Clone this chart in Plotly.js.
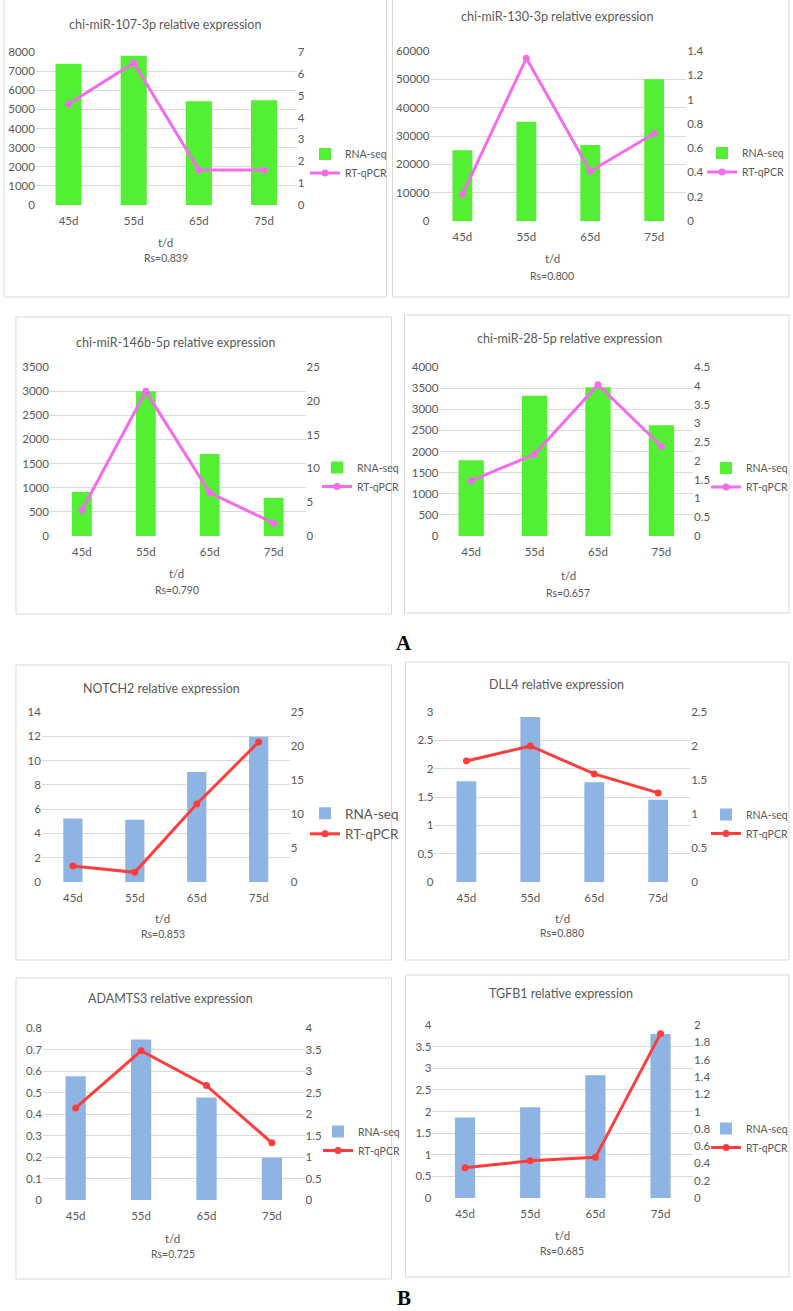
<!DOCTYPE html>
<html><head><meta charset="utf-8">
<script src="https://cdn.plot.ly/plotly-3.0.1.min.js"></script>
<style>html,body{margin:0;padding:0;background:#fff;} #chart{width:793px;height:1311px;}</style>
</head><body><div id="chart"></div>
<script>
// ---------- DATA ----------
const categories = ['45d', '55d', '65d', '75d'];
const seriesNames = ['RNA-seq', 'RT-qPCR'];
const titles = [
  'chi-miR-107-3p relative expression',
  'chi-miR-130-3p relative expression',
  'chi-miR-146b-5p relative expression',
  'chi-miR-28-5p relative expression',
  'NOTCH2 relative expression',
  'DLL4 relative expression',
  'ADAMTS3 relative expression',
  'TGFB1 relative expression'
];
const xTitle = 't/d';
const rsLabels = ['Rs=0.839', 'Rs=0.800', 'Rs=0.790', 'Rs=0.657', 'Rs=0.853', 'Rs=0.880', 'Rs=0.725', 'Rs=0.685'];

const rnaSeq107 = [7380, 7800, 5420, 5480];
const qpcr107 = [4.62, 6.50, 1.60, 1.60];
const rnaSeq130 = [25000, 35000, 26800, 50000];
const qpcr130 = [0.22, 1.34, 0.41, 0.72];
const rnaSeq146b = [910, 3000, 1700, 790];
const qpcr146b = [3.8, 21.4, 6.4, 1.9];
const rnaSeq28 = [1790, 3320, 3520, 2620];
const qpcr28 = [1.47, 2.18, 4.03, 2.39];
const rnaSeqNOTCH2 = [5.22, 5.13, 9.06, 11.97];
const qpcrNOTCH2 = [2.35, 1.42, 11.47, 20.6];
const rnaSeqDLL4 = [1.78, 2.91, 1.76, 1.45];
const qpcrDLL4 = [1.78, 2.0, 1.59, 1.31];
const rnaSeqADAMTS3 = [0.576, 0.746, 0.477, 0.197];
const qpcrADAMTS3 = [2.14, 3.47, 2.66, 1.33];
const rnaSeqTGFB1 = [1.86, 2.10, 2.84, 3.79];
const qpcrTGFB1 = [0.35, 0.43, 0.47, 1.90];

// axis scales (max, step) left / right
const leftMax = [8000, 60000, 3500, 4000, 14, 3, 0.8, 4];
const leftStep = [1000, 10000, 500, 500, 2, 0.5, 0.1, 0.5];
const rightMax = [7, 1.4, 25, 4.5, 25, 2.5, 4, 2];
const rightStep = [1, 0.2, 5, 0.5, 5, 0.5, 0.5, 0.2];
const panelLetters = ['A', 'B'];

const rnaSeqAll = [rnaSeq107, rnaSeq130, rnaSeq146b, rnaSeq28, rnaSeqNOTCH2, rnaSeqDLL4, rnaSeqADAMTS3, rnaSeqTGFB1];
const qpcrAll = [qpcr107, qpcr130, qpcr146b, qpcr28, qpcrNOTCH2, qpcrDLL4, qpcrADAMTS3, qpcrTGFB1];

// ---------- LAYOUT (pixels) ----------
const W = 793, H = 1311;
const panels = [
  {plot:[36,297,52,205], box:[4,387,-2,297], title:[165,24], td:[166,243], rs:[166,258], leg:[305,163.5], lf:10.5, bw:0.4, a:'g'},
  {plot:[431,687,51,221], box:[393,790,-2,297], title:[558,17], td:[553,258], rs:[553,276], leg:[702,162.5], lf:10.5, bw:0.31, a:'g'},
  {plot:[50,306,367,536], box:[16,392,317,614], title:[176,343], td:[177,574], rs:[177,590], leg:[317,477], lf:10.5, bw:0.31, a:'g'},
  {plot:[440,694,367,536], box:[405,790,315,613], title:[570,339], td:[569,575], rs:[569,593], leg:[707,477.5], lf:10.5, bw:0.4, a:'g'},
  {plot:[42,290,712,882], box:[16,392,665,960], title:[162,688], td:[163,918], rs:[163,934], leg:[305,824], lf:13.5, bw:0.31, a:'b'},
  {plot:[435,691,712,882], box:[406,790,662,960], title:[557,684], td:[563,918], rs:[563,933], leg:[707,824], lf:10.5, bw:0.31, a:'b'},
  {plot:[43,305,1028,1200], box:[16,392,978,1279], title:[171,998], td:[173,1238], rs:[173,1254], leg:[318,1141], lf:10.5, bw:0.31, a:'b'},
  {plot:[433,694,1025,1198], box:[406,790,975,1277], title:[562,993], td:[563,1235], rs:[563,1251], leg:[707,1138], lf:10.5, bw:0.31, a:'b'}
];
const letterPos = [[405,643],[405,1298]];

const FONT = 'Lato, "Open Sans", sans-serif';
const TXT = '#595959';
const GRID = '#D9D9D9';
const COLORS = {
  g: {bar:'#52EF34', line:'#F46CEC'},
  b: {bar:'#8DB4E2', line:'#FF3D3D'}
};
const px = v => v / W;
const py = v => 1 - v / H;

const data = [];
const layout = {
  width: W, height: H,
  margin: {l:0, r:0, t:0, b:0},
  paper_bgcolor: '#fff', plot_bgcolor: 'rgba(0,0,0,0)',
  font: {family: FONT, color: TXT, size: 11.5},
  showlegend: true,
  annotations: [], shapes: []
};

panels.forEach((p, i) => {
  const n = i + 1;
  const xa = n === 1 ? 'x' : 'x' + n;
  const yl = 'y' + (i === 0 ? '' : (2 * i + 1));
  const yr = 'y' + (2 * i + 2);
  const legName = n === 1 ? 'legend' : 'legend' + n;
  const col = COLORS[p.a];

  data.push({
    type: 'bar', x: categories, y: rnaSeqAll[i], name: seriesNames[0], width: p.bw,
    xaxis: xa, yaxis: yl, legend: legName,
    marker: {color: col.bar, line: {width: 0}}, hoverinfo: 'skip'
  });
  data.push({
    type: 'scatter', mode: 'lines+markers', x: categories, y: qpcrAll[i], name: seriesNames[1],
    xaxis: xa, yaxis: yr, legend: legName,
    line: {color: col.line, width: 3}, marker: {color: col.line, size: 7, symbol: 'circle'}, hoverinfo: 'skip'
  });

  const xKey = n === 1 ? 'xaxis' : 'xaxis' + n;
  const ylKey = 'yaxis' + (i === 0 ? '' : (2 * i + 1));
  const yrKey = 'yaxis' + (2 * i + 2);
  const dom = [py(p.plot[3]), py(p.plot[2])];

  layout[xKey] = {
    domain: [px(p.plot[0]), px(p.plot[1])], anchor: yl,
    type: 'category', showgrid: false, zeroline: false, showline: false,
    ticks: '', ticklabelstandoff: 7, tickfont: {size: 11.5, color: TXT}, fixedrange: true
  };
  layout[ylKey] = {
    domain: dom, anchor: xa, range: [0, leftMax[i]], dtick: leftStep[i], tick0: 0,
    showgrid: true, gridcolor: GRID, gridwidth: 1, zeroline: false, showline: false,
    ticks: '', tickformat: Number.isInteger(leftStep[i]) ? 'd' : '',
    tickfont: {size: 11.5, color: TXT}, fixedrange: true
  };
  layout[yrKey] = {
    overlaying: yl, anchor: xa, side: 'right', range: [0, rightMax[i]], dtick: rightStep[i], tick0: 0,
    showgrid: false, zeroline: false, showline: false, ticks: '',
    tickformat: Number.isInteger(rightStep[i]) ? 'd' : '',
    tickfont: {size: 11.5, color: TXT}, fixedrange: true
  };

  layout[legName] = {
    x: px(p.leg[0]), y: py(p.leg[1]), xanchor: 'left', yanchor: 'middle',
    xref: 'paper', yref: 'paper',
    font: {size: p.lf, color: TXT, family: FONT}, bgcolor: 'rgba(0,0,0,0)',
    tracegroupgap: 0, traceorder: 'normal', itemclick: false, itemdoubleclick: false
  };

  layout.annotations.push({
    text: titles[i], x: px(p.title[0]), y: py(p.title[1]), xref: 'paper', yref: 'paper',
    xanchor: 'center', yanchor: 'middle', showarrow: false,
    font: {size: 12.5, color: TXT, family: FONT}
  });
  layout.annotations.push({
    text: xTitle, x: px(p.td[0]), y: py(p.td[1]), xref: 'paper', yref: 'paper',
    xanchor: 'center', yanchor: 'middle', showarrow: false,
    font: {size: 11.5, color: TXT, family: FONT}
  });
  layout.annotations.push({
    text: rsLabels[i], x: px(p.rs[0]), y: py(p.rs[1]), xref: 'paper', yref: 'paper',
    xanchor: 'center', yanchor: 'middle', showarrow: false,
    font: {size: 10.5, color: TXT, family: FONT}
  });
  layout.shapes.push({
    type: 'rect', xref: 'paper', yref: 'paper',
    x0: px(p.box[0]), x1: px(p.box[1]), y0: py(p.box[3]), y1: py(p.box[2]),
    line: {color: GRID, width: 1}, fillcolor: 'rgba(0,0,0,0)', layer: 'below'
  });
});

panelLetters.forEach((t, k) => {
  layout.annotations.push({
    text: '<b>' + t + '</b>', x: px(letterPos[k][0]), y: py(letterPos[k][1]),
    xref: 'paper', yref: 'paper', xanchor: 'center', yanchor: 'middle', showarrow: false,
    font: {size: 21, color: '#000', family: '"Liberation Serif", "Times New Roman", serif'}
  });
});

Plotly.newPlot('chart', data, layout, {displayModeBar: false, staticPlot: true});
</script>
</body></html>
